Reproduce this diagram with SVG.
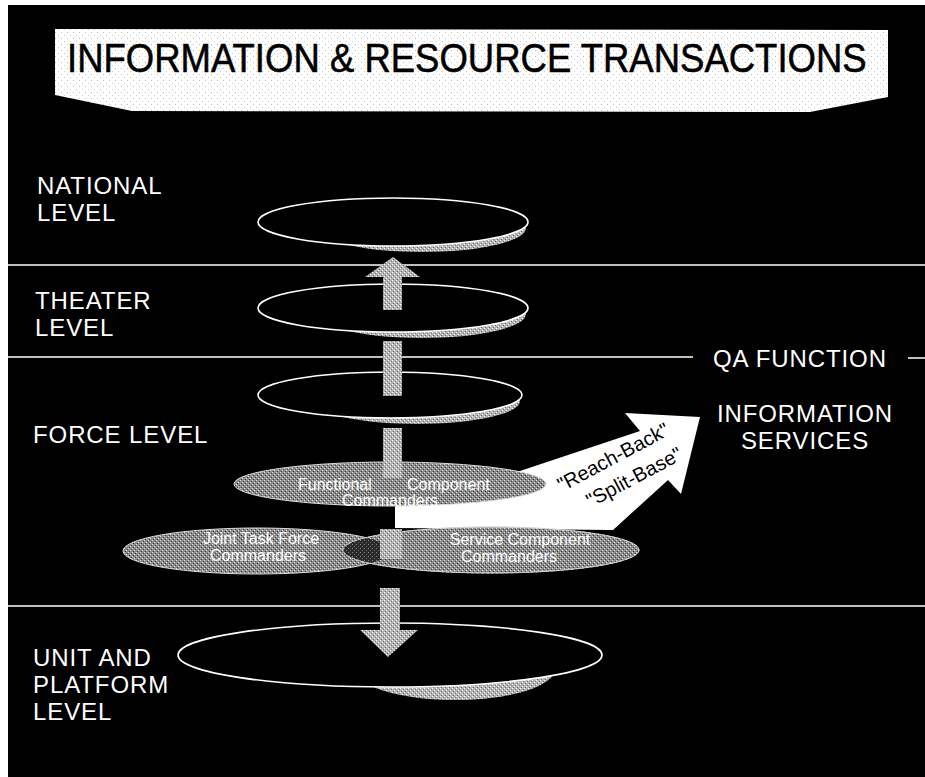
<svg xmlns="http://www.w3.org/2000/svg" width="925" height="777" viewBox="0 0 925 777">
<defs>
<style>
.lbl{font-family:"Liberation Sans",Arial,Helvetica,sans-serif;font-size:24px;letter-spacing:0.9px;fill:#fff}
.ntx{font-family:"Liberation Sans",Arial,Helvetica,sans-serif;font-size:16px;fill:#fff}
.rb{font-family:"Liberation Sans",Arial,Helvetica,sans-serif;font-size:20px;fill:#000}
.sep{stroke:#fff;stroke-width:1.5;fill:none}
.ring{fill:#000;stroke:#fff;stroke-width:1.6}
.shadow{fill:url(#stipL)}
.garrow{fill:url(#stipL)}
.dnode{fill:url(#stipD);stroke:#ddd;stroke-width:1}
</style>
<pattern id="stipL" width="4" height="4" patternUnits="userSpaceOnUse">
<rect width="4" height="4" fill="#b4b4b4"/>
<rect x="0" y="0" width="1" height="1" fill="#fff"/>
<rect x="2" y="2" width="1" height="1" fill="#fff"/>
<rect x="1" y="3" width="1" height="1" fill="#666"/>
<rect x="3" y="1" width="1" height="1" fill="#777"/>
</pattern>
<pattern id="stipD" width="4" height="4" patternUnits="userSpaceOnUse">
<rect width="4" height="4" fill="#8a8a8a"/>
<rect x="0" y="0" width="1" height="1" fill="#ddd"/>
<rect x="2" y="2" width="1" height="1" fill="#eee"/>
<rect x="1" y="3" width="1" height="1" fill="#333"/>
<rect x="3" y="1" width="1" height="1" fill="#444"/>
</pattern>
<pattern id="stipK" width="4" height="4" patternUnits="userSpaceOnUse">
<rect width="4" height="4" fill="#2a2a2a"/>
<rect x="0" y="0" width="1" height="1" fill="#888"/>
<rect x="2" y="2" width="1" height="1" fill="#666"/>
</pattern>
<pattern id="stipW" width="6" height="6" patternUnits="userSpaceOnUse">
<rect width="6" height="6" fill="#fff"/>
<rect x="1" y="2" width="1" height="1" fill="#bbb"/>
<rect x="4" y="5" width="1" height="1" fill="#ccc"/>
</pattern>
<clipPath id="sccClip"><ellipse cx="491" cy="550" rx="148" ry="23"/></clipPath>
</defs>

<rect x="0" y="0" width="925" height="777" fill="#fff"/>
<rect x="8" y="5" width="917" height="772" fill="#000"/>

<g id="title">
<polygon points="55,29 888,30 888,97 810,112 132,111 55,95" fill="url(#stipW)"/>
<text transform="translate(67,72) scale(1,1.12)" font-family="'Liberation Sans',Arial,Helvetica,sans-serif" font-size="36.5" fill="#000" stroke="#000" stroke-width="0.5">INFORMATION &amp; RESOURCE TRANSACTIONS</text>
</g>

<g id="separators">
<line class="sep" x1="8" y1="265" x2="925" y2="265"/>
<line class="sep" x1="8" y1="357" x2="693" y2="357"/>
<line class="sep" x1="908" y1="358" x2="925" y2="358"/>
<line class="sep" x1="8" y1="606" x2="925" y2="606"/>
</g>

<g id="level-labels">
<text class="lbl" x="37" y="194">NATIONAL</text>
<text class="lbl" x="37" y="221">LEVEL</text>
<text class="lbl" x="35" y="309">THEATER</text>
<text class="lbl" x="35" y="336">LEVEL</text>
<text class="lbl" x="33" y="443">FORCE LEVEL</text>
<text class="lbl" x="33" y="666">UNIT AND</text>
<text class="lbl" x="33" y="693">PLATFORM</text>
<text class="lbl" x="33" y="720">LEVEL</text>
<text class="lbl" x="713" y="367">QA FUNCTION</text>
<text class="lbl" x="805" y="422" text-anchor="middle">INFORMATION</text>
<text class="lbl" x="805" y="449" text-anchor="middle">SERVICES</text>
</g>

<g id="node-national">
<ellipse class="shadow" cx="422" cy="228" rx="104" ry="24"/>
<ellipse class="ring" cx="393" cy="222" rx="135" ry="24"/>
</g>
<g id="node-theater">
<ellipse class="shadow" cx="422" cy="314" rx="104" ry="24"/>
<ellipse class="ring" cx="393" cy="308" rx="135" ry="24"/>
</g>
<g id="node-force">
<ellipse class="shadow" cx="417" cy="401" rx="103" ry="23"/>
<ellipse class="ring" cx="390" cy="395" rx="132" ry="23"/>
</g>
<g id="node-unit">
<ellipse class="shadow" cx="455" cy="669" rx="100" ry="31"/>
<ellipse class="ring" cx="390" cy="655" rx="212" ry="32"/>
</g>

<g id="connectors">
<polygon id="reach-back-arrow" points="395,528 613,530 668,480 681,494 700,417 625,413 640,431 517,472 395,500" fill="#fff"/>
<g id="up-arrow">
<rect class="garrow" x="383" y="276" width="19" height="34"/>
<polygon class="garrow" points="365,277 393,257 420,277"/>
</g>
<rect class="garrow" x="383" y="341" width="19" height="55"/>
</g>

<g id="node-jtf">
<ellipse class="dnode" cx="257" cy="551" rx="134" ry="23"/>
</g>
<g id="node-scc">
<ellipse class="dnode" cx="491" cy="550" rx="148" ry="23"/>
<ellipse cx="257" cy="551" rx="134" ry="23" fill="url(#stipK)" clip-path="url(#sccClip)"/>
<ellipse cx="491" cy="550" rx="148" ry="23" fill="none" stroke="#ccc" stroke-width="1" stroke-dasharray="3 2"/>
</g>
<g id="node-functional">
<ellipse class="dnode" cx="390" cy="484" rx="156" ry="22"/>
</g>

<g id="connectors-shafts">
<rect class="garrow" x="383" y="428" width="19" height="50"/>
<rect class="garrow" x="380" y="529" width="22" height="30"/>
<g id="down-arrow">
<rect class="garrow" x="380" y="588" width="20" height="43"/>
<polygon class="garrow" points="360,630 418,630 388,657"/>
</g>
</g>

<g id="node-labels">
<text class="ntx" x="298" y="490">Functional</text>
<text class="ntx" x="407" y="490">Component</text>
<text class="ntx" x="390" y="506" text-anchor="middle">Commanders</text>
<text class="ntx" x="261" y="544" text-anchor="middle">Joint Task Force</text>
<text class="ntx" x="258" y="561" text-anchor="middle">Commanders</text>
<text class="ntx" x="520" y="545" text-anchor="middle">Service Component</text>
<text class="ntx" x="509" y="562" text-anchor="middle">Commanders</text>
</g>

<g id="arrow-labels">
<text class="rb" text-anchor="middle" transform="translate(613,457) rotate(-28)" y="7">"Reach-Back"</text>
<text class="rb" text-anchor="middle" transform="translate(634,477) rotate(-28)" y="7">"Split-Base"</text>
</g>
</svg>
